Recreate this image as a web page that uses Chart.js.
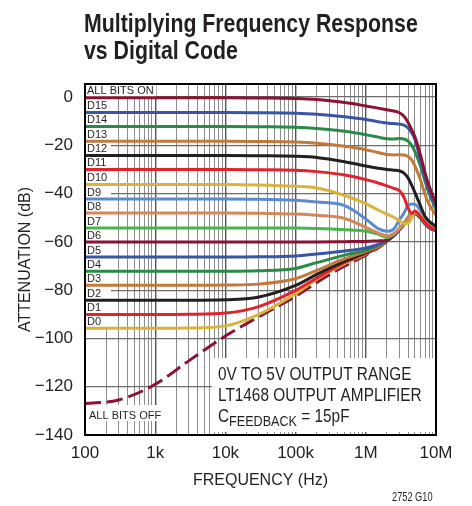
<!DOCTYPE html>
<html>
<head>
<meta charset="utf-8">
<script src="https://cdn.jsdelivr.net/npm/chart.js@4/dist/chart.umd.min.js"></script>
<style>
html, body { margin: 0; padding: 0; background: #fff; }
#wrap { position: relative; width: 472px; height: 506px; }
#title { position: absolute; left: 84px; top: 10px; font: bold 25px 'Liberation Sans', Arial, sans-serif; line-height: 26.6px; color: #231f20; white-space: nowrap; transform: scaleX(0.852); transform-origin: 0 0; }
#code { position: absolute; left: 392px; top: 491px; font: 12px 'Liberation Sans', Arial, sans-serif; line-height: 12px; color: #231f20; white-space: nowrap; transform: scaleX(0.77); transform-origin: 0 0; }
</style>
</head>
<body>
<div id="wrap">
<canvas id="showChart" width="472" height="506"></canvas>
<div id="title">Multiplying Frequency Response<br>vs Digital Code</div>
<div id="code">2752 G10</div>
</div>
<script>
var FONT = "'Liberation Sans', Arial, sans-serif";

// frequency points (Hz)
var freqs = [100, 300, 1e3, 3e3, 1e4, 3e4, 1e5, 2e5, 5e5, 1e6, 1.5e6, 2e6, 2.5e6, 3e6, 3.5e6, 4e6, 4.5e6, 5e6, 6e6, 7e6, 8e6, 1e7];

var allBitsOn = [-0.3, -0.3, -0.3, -0.3, -0.3, -0.4, -0.6, -1.0, -2.3, -3.7, -4.6, -5.3, -5.8, -6.5, -8, -10.5, -13.5, -16.5, -24, -31.5, -37, -44];
var d15 = [-6.4, -6.4, -6.4, -6.4, -6.4, -6.5, -6.7, -7.1, -8.2, -9.3, -10.2, -10.8, -11, -11.2, -11.6, -12.8, -14.8, -17.5, -26, -33.5, -39, -45.5];
var d14 = [-12.2, -12.2, -12.2, -12.2, -12.2, -12.3, -12.5, -13, -14.2, -15.6, -16.6, -17.3, -17.4, -17.2, -17.4, -18.3, -20, -22.5, -28.5, -35, -40, -46.5];
var d13 = [-18.3, -18.3, -18.3, -18.3, -18.3, -18.4, -18.6, -19.1, -20.4, -21.8, -23, -23.8, -24, -23.9, -24, -24.6, -26, -28.5, -34.2, -40.5, -44.5, -49];
var d12 = [-24.2, -24.2, -24.2, -24.2, -24.2, -24.3, -24.5, -25, -26.8, -28.6, -29.5, -30, -30.3, -30.6, -31.5, -33.5, -36.5, -39.5, -45, -49.5, -51.5, -53.5];
var d11 = [-30, -30, -30, -30, -30, -30.1, -30.3, -30.9, -32.3, -34.2, -35.6, -36.8, -37.8, -38.8, -41.5, -46, -48.2, -47.2, -49.5, -52, -53.5, -55];
var d10 = [-36.2, -36.2, -36.2, -36.2, -36.2, -36.4, -37, -37.7, -40.8, -44.2, -46.8, -48.5, -49.8, -51.2, -52.4, -52.2, -50, -47.5, -49, -51.5, -53, -54.5];
var d9 = [-42.2, -42.2, -42.2, -42.2, -42.2, -42.3, -42.8, -43.5, -45, -50.5, -54.5, -55.6, -54.7, -51, -48, -45, -44.3, -44.4, -47, -49.8, -51.8, -54];
var d8 = [-48, -48, -48, -48, -48, -48.1, -48.5, -49, -50.3, -54, -56.3, -57.5, -56.5, -54.6, -52.7, -50.2, -48.5, -47.8, -49.3, -51.8, -53.3, -54.7];
var d7 = [-54.2, -54.2, -54.2, -54.2, -54.2, -54.2, -54.3, -54.5, -55, -55.6, -56.8, -58.3, -57, -54.6, -52.3, -49.8, -48.3, -47.8, -49.6, -52, -53.6, -54.9];
var d6 = [-60, -60, -60, -60, -60, -60, -60, -60, -59.9, -59.8, -59.6, -59.3, -57.3, -54.9, -52.5, -50, -48.5, -48, -49.9, -52.3, -53.9, -55.1];
var d5 = [-66.3, -66.3, -66.3, -66.3, -66.3, -66.2, -65.8, -65, -63.8, -62.5, -61, -59.5, -57.4, -55, -52.6, -50.1, -48.6, -48.1, -50, -52.4, -54, -55.2];
var d4 = [-72.2, -72.2, -72.2, -72.2, -72.2, -72, -71, -68.6, -65.5, -63.5, -61.5, -59.5, -57.4, -55, -52.6, -50.1, -48.6, -48.1, -50, -52.4, -54, -55.2];
var d3 = [-78, -78, -78, -78, -77.9, -77.5, -75.3, -71.8, -67, -64, -62, -59.5, -57.4, -55, -52.6, -50.1, -48.6, -48.1, -50, -52.4, -54, -55.2];
var d2 = [-84.2, -84.2, -84.2, -84.2, -84, -82.8, -78, -73.5, -68, -64.5, -62, -59.5, -57.4, -55, -52.6, -50.1, -48.6, -48.1, -50, -52.4, -54, -55.2];
var d1 = [-90.1, -90.1, -90.1, -90, -89.5, -86.8, -80.1, -75, -68.5, -64.8, -62.2, -59.5, -57.4, -55, -52.6, -50.1, -48.6, -48.1, -50, -52.4, -54, -55.2];
var d0 = [-95.8, -95.8, -95.8, -95.7, -94.8, -90, -81.5, -75.5, -69, -65, -62.3, -59.5, -57.4, -55, -52.6, -50.1, -48.6, -48.1, -50, -52.4, -54, -55.2];
var allBitsOff = [-127, -125.5, -119, -109.3, -99, -91, -82.5, -76.8, -70, -65.5, -62.5, -59.8, -57.5, -55.1, -52.7, -50.2, -48.7, -48.2, -50.1, -52.5, -54.1, -55.3];

var codeLabels = ['ALL BITS ON', 'D15', 'D14', 'D13', 'D12', 'D11', 'D10', 'D9', 'D8', 'D7', 'D6', 'D5', 'D4', 'D3', 'D2', 'D1', 'D0'];
var codeSeries = [allBitsOn, d15, d14, d13, d12, d11, d10, d9, d8, d7, d6, d5, d4, d3, d2, d1, d0];
var codeColors = ['#8c1234', '#3a55a5', '#2a8a47', '#c27a3c', '#231f20', '#e2232e', '#d8b43a', '#5a8bd0', '#d4885a', '#48b64a',
                  '#8c1234', '#3a55a5', '#2a8a47', '#c27a3c', '#231f20', '#e2232e', '#d8b43a'];

var decadeValues = [1e2, 1e3, 1e4, 1e5, 1e6, 1e7];
var decadeLabels = ['100', '1k', '10k', '100k', '1M', '10M'];
var yTicks = [-140, -120, -100, -80, -60, -40, -20, 0];

var noteLines = ['0V TO 5V OUTPUT RANGE', 'LT1468 OUTPUT AMPLIFIER'];

function toPoints(arr) {
    return arr.map(function (v, i) { return { x: freqs[i], y: v }; });
}

var datasets = codeSeries.map(function (s, i) {
    return {
        label: codeLabels[i],
        data: toPoints(s),
        borderColor: codeColors[i],
        borderWidth: 3,
        pointRadius: 0,
        cubicInterpolationMode: 'monotone',
        fill: false
    };
});
datasets.push({
    label: 'ALL BITS OFF',
    data: toPoints(allBitsOff),
    borderColor: '#8c1234',
    borderWidth: 3,
    borderDash: [16, 6],
    pointRadius: 0,
    cubicInterpolationMode: 'monotone',
    fill: false
});

function isDecade(v) {
    var l = Math.log10(v);
    return Math.abs(l - Math.round(l)) < 1e-9;
}

// condensed text: draw squeezed horizontally, return drawn width
function narrowText(c, text, x, y, sx) {
    c.save();
    c.translate(x, y);
    c.scale(sx, 1);
    c.fillText(text, 0, 0);
    var w = c.measureText(text).width * sx;
    c.restore();
    return w;
}

var overlay = {
    id: 'overlay',
    beforeDatasetsDraw: function (chart) {
        var c = chart.ctx, a = chart.chartArea, y = chart.scales.y;
        c.save();
        c.fillStyle = '#fff';
        // white column behind curve labels
        var yOn = y.getPixelForValue(allBitsOn[0]);
        var yD0 = y.getPixelForValue(d0[0]);
        c.fillRect(a.left + 1, a.top + 1, 70, yOn - a.top - 2);
        c.fillRect(a.left + 1, a.top + 1, 25, yD0 - a.top - 2);
        // ALL BITS OFF label
        c.fillRect(a.left + 1, 405, 74, 16);
        // note box
        c.fillRect(212, 358, a.right - 213, a.bottom - 361);
        c.restore();
    },
    afterDatasetsDraw: function (chart) {
        var c = chart.ctx, a = chart.chartArea, y = chart.scales.y;
        c.save();
        c.fillStyle = '#231f20';
        c.textBaseline = 'alphabetic';
        c.textAlign = 'left';
        c.font = '11px ' + FONT;
        codeSeries.forEach(function (s, i) {
            c.fillText(codeLabels[i], a.left + 2, y.getPixelForValue(s[0]) - 3.3);
        });
        c.fillText('ALL BITS OFF', a.left + 4, 418.5);

        c.font = '18.3px ' + FONT;
        narrowText(c, noteLines[0], 218, 380, 0.84);
        narrowText(c, noteLines[1], 218, 401, 0.84);
        var x = 218;
        x += narrowText(c, 'C', x, 422, 0.84);
        c.font = '15px ' + FONT;
        x += narrowText(c, 'FEEDBACK', x, 426, 0.84);
        c.font = '18.3px ' + FONT;
        narrowText(c, ' = 15pF', x, 422, 0.84);

        // frame
        c.strokeStyle = '#000';
        c.lineWidth = 2;
        c.strokeRect(a.left, a.top, a.right - a.left, a.bottom - a.top);
        c.restore();
    }
};

var ctx = document.getElementById('showChart').getContext('2d');
var showChart = new Chart(ctx, {
    type: 'line',
    data: { datasets: datasets },
    plugins: [overlay],
    options: {
        responsive: false,
        animation: false,
        layout: { padding: { left: 0, right: 36, top: 84, bottom: 0 } },
        plugins: {
            legend: { display: false },
            tooltip: { enabled: false },
            title: { display: false }
        },
        scales: {
            x: {
                type: 'logarithmic',
                min: 100,
                max: 1e7,
                afterBuildTicks: function (scale) {
                    var t = [];
                    for (var d = 100; d < 1e7; d *= 10) {
                        for (var m = 1; m < 10; m++) t.push({ value: d * m });
                    }
                    t.push({ value: 1e7 });
                    scale.ticks = t;
                },
                afterFit: function (scale) { scale.height = 71; },
                ticks: {
                    autoSkip: false,
                    maxRotation: 0,
                    padding: 8,
                    color: '#231f20',
                    font: { family: FONT, size: 17 },
                    callback: function (value) {
                        var i = decadeValues.indexOf(value);
                        return i >= 0 ? decadeLabels[i] : '';
                    }
                },
                grid: {
                    drawTicks: false,
                    color: function (c) { return c.tick && isDecade(c.tick.value) ? '#555' : '#8c8c8c'; },
                    lineWidth: function (c) { return c.tick && isDecade(c.tick.value) ? 1.4 : 1; }
                },
                border: { display: false },
                title: {
                    display: true,
                    text: 'FREQUENCY (Hz)',
                    color: '#231f20',
                    font: { family: FONT, size: 16 },
                    padding: { top: 0, bottom: 16 }
                }
            },
            y: {
                type: 'linear',
                min: -140,
                max: 5.4,
                afterBuildTicks: function (scale) {
                    scale.ticks = yTicks.map(function (v) { return { value: v }; });
                },
                afterFit: function (scale) { scale.width = 85; },
                ticks: {
                    padding: 12,
                    color: '#231f20',
                    font: { family: FONT, size: 17 },
                    callback: function (value) { return value < 0 ? '\u2212' + Math.abs(value) : '0'; }
                },
                grid: { drawTicks: false, color: '#6e6e6e', lineWidth: 1.2 },
                border: { display: false },
                title: {
                    display: true,
                    text: 'ATTENUATION (dB)',
                    color: '#231f20',
                    font: { family: FONT, size: 16 },
                    padding: { top: 16, bottom: 0 }
                }
            }
        }
    }
});
</script>
</body>
</html>
